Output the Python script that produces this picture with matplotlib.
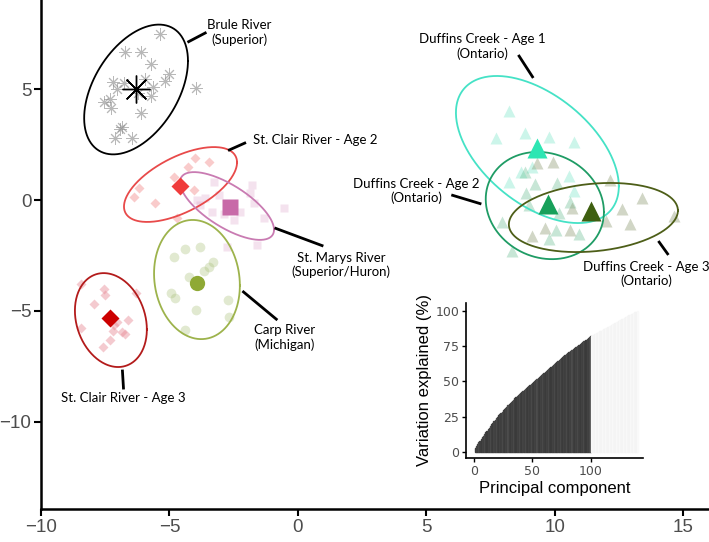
import numpy as np
import matplotlib.pyplot as plt

# PCA scores (PC1, PC2) per population
brule_x = [-5.37, -6.73, -6.11, -5.72, -5.02, -5.18, -7.20, -6.77, -5.95, -5.64, -3.97,
           -7.04, -6.23, -5.72, -7.32, -7.55, -7.28, -6.11, -6.85, -6.93, -7.12, -6.46]
brule_y = [7.49, 6.68, 6.68, 6.14, 5.69, 5.37, 5.33, 5.28, 5.46, 5.10, 5.06,
           5.01, 4.83, 4.70, 4.56, 4.42, 4.15, 3.93, 3.30, 3.21, 2.80, 2.80]

stclair2_x = [-4.01, -3.46, -4.28, -4.82, -6.19, -6.38, -5.56, -4.05, -4.71]
stclair2_y = [1.90, 1.72, 1.49, 1.04, 0.54, 0.14, -0.14, 0.45, -0.81]

stmarys_x = [-3.27, -3.07, -3.62, -3.93, -2.26, -2.49, -1.87, -1.71, -1.32, -0.54,
             -3.35, -2.88, -1.60, -2.76, -1.79, -3.81]
stmarys_y = [0.81, 0.23, 0.09, 0.00, -0.54, -0.90, 0.32, -0.14, -0.81, -0.36,
             -0.54, -0.63, -2.03, -2.12, 0.68, -0.23]

carp_x = [-4.82, -4.40, -3.81, -3.31, -3.46, -3.66, -4.24, -4.94, -4.79, -3.97, -2.72, -2.68, -4.40]
carp_y = [-2.57, -2.21, -2.12, -2.80, -3.02, -3.21, -3.48, -4.20, -4.42, -4.97, -4.51, -5.28, -5.87]

stclair3_x = [-8.44, -7.55, -7.51, -7.94, -6.30, -8.44, -7.04, -7.16, -6.61, -7.20, -6.85, -6.73, -7.32, -7.59]
stclair3_y = [-3.79, -4.02, -4.29, -4.70, -4.20, -5.78, -5.51, -5.64, -5.42, -5.91, -5.96, -6.05, -6.32, -6.64]

duff1_x = [8.21, 7.70, 8.83, 9.77, 10.74, 10.54, 9.11, 8.68, 8.21, 10.74]
duff1_y = [4.02, 2.80, 3.02, 2.84, 2.62, 1.08, 1.49, 1.26, 0.81, 0.41]

duff2_x = [8.83, 9.22, 8.87, 10.08, 8.99, 10.16, 7.94, 9.77, 10.93, 8.33, 10.58, 10.04]
duff2_y = [1.26, 0.72, 0.32, 0.77, -0.23, -0.59, -0.99, -1.76, -1.53, -2.30, -0.09, -1.35]

duff3_x = [9.30, 9.92, 12.14, 13.39, 10.66, 12.61, 12.92, 11.98, 14.63, 9.61, 10.58, 9.11]
duff3_y = [1.67, 1.72, 0.90, 0.09, -0.36, -0.41, -1.08, -0.95, -0.72, -1.26, -1.35, -1.63]

# group centroids
cent_brule = (-6.30, 5.01)
cent_stclair2 = (-4.59, 0.63)
cent_stmarys = (-2.65, -0.32)
cent_carp = (-3.93, -3.75)
cent_stclair3 = (-7.32, -5.33)
cent_duff1 = (9.30, 2.35)
cent_duff2 = (9.73, -0.18)
cent_duff3 = (11.40, -0.50)

# 95% ellipses: centre x, centre y, half extent x, half extent y, correlation
ell_brule = (-6.30, 4.99, 2.02, 2.93, 0.44)
ell_stclair2 = (-4.57, 0.70, 2.20, 1.69, 0.59)
ell_stmarys = (-2.76, -0.27, 1.83, 1.53, -0.70)
ell_carp = (-3.93, -3.59, 1.67, 2.69, -0.10)
ell_stclair3 = (-7.28, -5.42, 1.40, 2.12, -0.20)
ell_duff1 = (9.32, 2.28, 3.17, 3.32, -0.50)
ell_duff2 = (9.61, -0.25, 2.30, 2.42, -0.12)
ell_duff3 = (11.50, -0.79, 3.29, 1.56, 0.20)

# inset: cumulative variation explained (%) per principal component
cum_var = [3.0, 4.3, 5.5, 6.8, 8.0, 9.2, 10.4, 11.6, 12.8, 14.0,
           15.1, 16.2, 17.3, 18.4, 19.5, 20.6, 21.7, 22.8, 23.9, 25.0,
           25.9, 26.8, 27.7, 28.6, 29.5, 30.4, 31.3, 32.2, 33.1, 34.0,
           34.8, 35.6, 36.4, 37.2, 38.0, 38.8, 39.6, 40.4, 41.2, 42.0,
           42.7, 43.4, 44.1, 44.8, 45.5, 46.2, 46.9, 47.6, 48.3, 49.0,
           49.7, 50.4, 51.1, 51.8, 52.5, 53.2, 53.9, 54.6, 55.3, 56.0,
           56.7, 57.4, 58.1, 58.8, 59.5, 60.2, 60.9, 61.6, 62.3, 63.0,
           63.7, 64.4, 65.1, 65.8, 66.5, 67.2, 67.9, 68.6, 69.3, 70.0,
           70.6, 71.2, 71.8, 72.4, 73.0, 73.6, 74.2, 74.8, 75.4, 76.0,
           76.6, 77.2, 77.8, 78.4, 79.0, 79.6, 80.2, 80.8, 81.4, 82.0,
           82.5, 82.9, 83.4, 83.8, 84.3, 84.7, 85.2, 85.6, 86.1, 86.5,
           87.0, 87.4, 87.9, 88.3, 88.8, 89.2, 89.7, 90.1, 90.6, 91.0,
           91.5, 91.9, 92.4, 92.8, 93.3, 93.7, 94.2, 94.6, 95.1, 95.5,
           96.0, 96.4, 96.9, 97.3, 97.8, 98.2, 98.7, 99.1, 99.6, 100.0]
n_retained = 100


def draw_ellipse(ax, ell, color, lw=1.3):
    cx, cy, hx, hy, rho = ell
    t = np.linspace(0, 2 * np.pi, 300)
    phi = np.arccos(rho)
    ax.plot(cx + hx * np.cos(t), cy + hy * np.cos(t - phi), color=color, lw=lw, zorder=3)


def label(ax, text, xy, line):
    ax.text(xy[0], xy[1], text, ha="center", va="center", fontsize=9.5,
            family="Lato", linespacing=1.15, zorder=5)
    ax.plot(line[0], line[1], color="black", lw=2.0, solid_capstyle="butt", zorder=5)


fig = plt.figure(figsize=(7.09, 5.42), dpi=100)
ax = fig.add_axes([41 / 709, 33 / 542, 668 / 709, 509 / 542])

groups = [
    (brule_x, brule_y, cent_brule, ell_brule, (8, 2, 0), "#8a8a8a", "black", "black", 9, 20, 0.6),
    (stclair2_x, stclair2_y, cent_stclair2, ell_stclair2, "D", "#f06a6a", "#f03c3c", "#e84a4a", 5.5, 9, 0.35),
    (stmarys_x, stmarys_y, cent_stmarys, ell_stmarys, "s", "#d58fbf", "#c86aa8", "#c97bb2", 5.5, 12, 0.25),
    (carp_x, carp_y, cent_carp, ell_carp, "o", "#a9c07a", "#8fa935", "#9db34c", 7, 11, 0.35),
    (stclair3_x, stclair3_y, cent_stclair3, ell_stclair3, "D", "#e88a96", "#cc0000", "#b31b1b", 5.5, 9, 0.45),
    (duff1_x, duff1_y, cent_duff1, ell_duff1, "^", "#6fe3c4", "#2ee6b3", "#45e2c6", 8, 14, 0.35),
    (duff2_x, duff2_y, cent_duff2, ell_duff2, "^", "#5fb98a", "#17a05a", "#1f9c65", 8, 14, 0.35),
    (duff3_x, duff3_y, cent_duff3, ell_duff3, "^", "#8c9a72", "#3e5f10", "#4d5e18", 8, 14, 0.4),
]

for gx, gy, cent, ell, mk, pcol, ccol, ecol, ms, cms, alpha in groups:
    if mk == (8, 2, 0):
        ax.plot(gx, gy, ls="none", marker=mk, ms=ms, mec=pcol, mew=0.7, alpha=alpha, zorder=2)
        ax.plot(*cent, marker=mk, ms=cms, mec=ccol, mew=1.0, zorder=4)
    else:
        ax.plot(gx, gy, ls="none", marker=mk, ms=ms, mfc=pcol, mec="none", alpha=alpha, zorder=2)
        ax.plot(*cent, marker=mk, ms=cms, mfc=ccol, mec="none", zorder=4)
    draw_ellipse(ax, ell, ecol)

label(ax, "Brule River\n(Superior)", (-2.28, 7.56), ([-4.30, -3.56], [7.12, 7.57]))
ax.text(-1.73, 2.71, "St. Clair River - Age 2", ha="left", va="center", fontsize=9.5,
        family="Lato", zorder=5)
ax.plot([-2.67, -2.07], [2.26, 2.57], color="black", lw=2.0, zorder=5)
label(ax, "St. Marys River\n(Superior/Huron)", (1.67, -2.93), ([-0.91, 0.99], [-1.26, -2.08]))
label(ax, "Carp River\n(Michigan)", (-0.53, -6.21), ([-2.16, -0.80], [-4.11, -5.42]))
ax.text(-6.79, -8.94, "St. Clair River - Age 3", ha="center", va="center", fontsize=9.5,
        family="Lato", zorder=5)
ax.plot([-6.83, -6.79], [-7.72, -8.49], color="black", lw=2.0, zorder=5)
label(ax, "Duffins Creek - Age 1\n(Ontario)", (7.18, 6.93), ([8.58, 9.16], [6.55, 5.51]))
label(ax, "Duffins Creek - Age 2\n(Ontario)", (4.61, 0.41), ([5.97, 7.14], [0.23, -0.18]))
label(ax, "Duffins Creek - Age 3\n(Ontario)", (13.56, -3.34), ([14.03, 14.42], [-1.85, -2.48]))

ax.set_xlim(-10, 16.0)
ax.set_ylim(-13.95, 9.03)
ax.set_xticks([-10, -5, 0, 5, 10, 15])
ax.set_yticks([-10, -5, 0, 5])
for s in ["top", "right"]:
    ax.spines[s].set_visible(False)
for s in ["left", "bottom"]:
    ax.spines[s].set_linewidth(1.8)
ax.tick_params(length=5, width=1.5, labelsize=13.5, labelcolor="#4d4d4d", pad=2)
for lab in ax.get_xticklabels() + ax.get_yticklabels():
    lab.set_family("Liberation Sans")

# inset: variation explained
ins = fig.add_axes([466 / 709, 84 / 542, 177 / 709, 155 / 542])
pcs = np.arange(1, len(cum_var) + 1)
dark = ["#3a3a3a", "#444444", "#3e3e3e", "#4c4c4c", "#404040"]
light = ["#f4f4f4", "#f9f9f9", "#f6f6f6"]
cols = [dark[i % len(dark)] if p <= n_retained else light[i % len(light)]
        for i, p in enumerate(pcs)]
ins.bar(pcs, cum_var, width=1.0, color=cols, edgecolor=cols, linewidth=1.0)
ins.set_xlim(-7, 145)
ins.set_ylim(-4.3, 105.7)
ins.set_xticks([0, 50, 100])
ins.set_yticks([0, 25, 50, 75, 100])
for s in ["top", "right"]:
    ins.spines[s].set_visible(False)
for s in ["left", "bottom"]:
    ins.spines[s].set_linewidth(1.2)
ins.patch.set_alpha(0)
ins.tick_params(length=3, width=1, labelsize=9, labelcolor="#4d4d4d", pad=2)
ins.set_xlabel("Principal component", fontsize=12, family="Liberation Sans", labelpad=2)
ins.set_ylabel("Variation explained (%)", fontsize=12, family="Liberation Sans", labelpad=2)

fig.savefig("out.png", dpi=100)
